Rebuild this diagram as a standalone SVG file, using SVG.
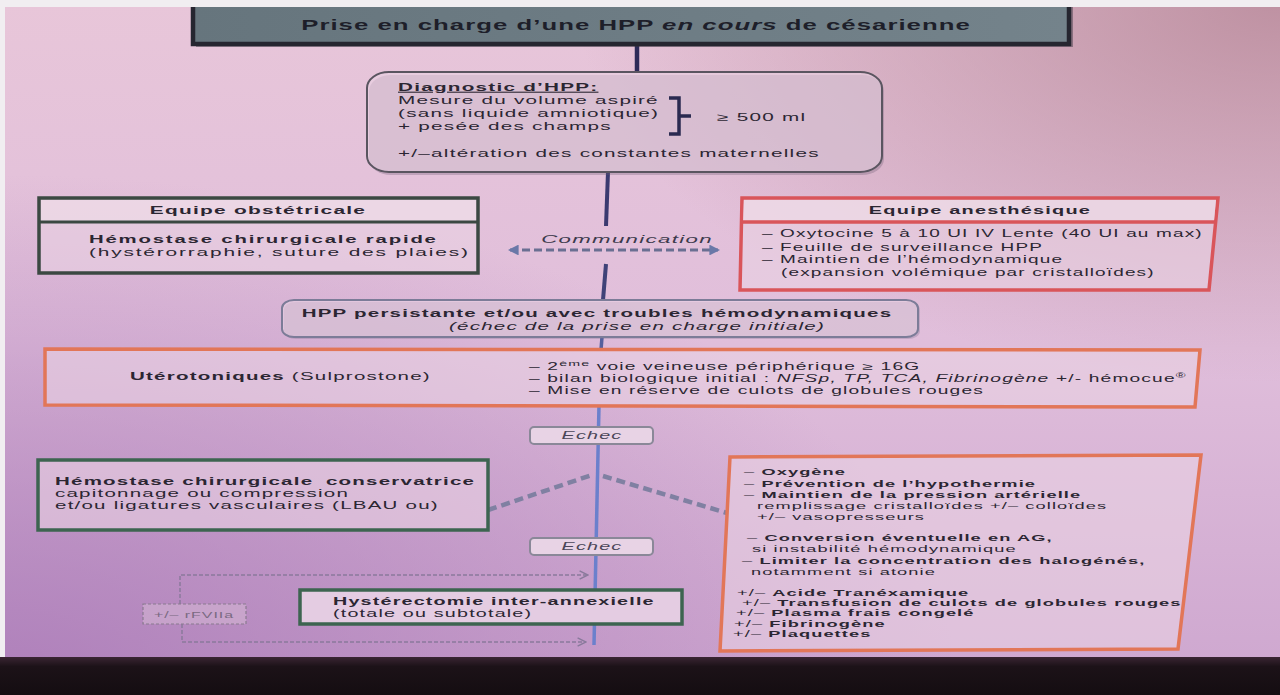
<svg xmlns="http://www.w3.org/2000/svg" width="1280" height="695" viewBox="0 0 1280 695">
<defs>
  <linearGradient id="bg" x1="0" y1="0" x2="0" y2="1">
    <stop offset="0" stop-color="#e8c6d9"/>
    <stop offset="0.5" stop-color="#e0bedb"/>
    <stop offset="1" stop-color="#cda6cf"/>
  </linearGradient>
  <radialGradient id="bl" cx="0" cy="1" r="0.75">
    <stop offset="0" stop-color="#a878b6" stop-opacity="0.85"/>
    <stop offset="1" stop-color="#a878b6" stop-opacity="0"/>
  </radialGradient>
  <radialGradient id="tr" cx="1" cy="0" r="0.55">
    <stop offset="0" stop-color="#b48494" stop-opacity="0.8"/>
    <stop offset="1" stop-color="#b48494" stop-opacity="0"/>
  </radialGradient>
  <linearGradient id="band" x1="0" y1="0" x2="0" y2="1">
    <stop offset="0" stop-color="#3a2533"/>
    <stop offset="0.25" stop-color="#1c1218"/>
    <stop offset="1" stop-color="#140d11"/>
  </linearGradient>
  <linearGradient id="ttl" x1="0" y1="0" x2="1" y2="0">
    <stop offset="0" stop-color="#66757d"/>
    <stop offset="1" stop-color="#74838b"/>
  </linearGradient>
  <marker id="ah" viewBox="0 0 10 10" refX="8" refY="5" markerWidth="3.6" markerHeight="3.6" orient="auto-start-reverse">
    <path d="M0,0 L10,5 L0,10 z" fill="#6a78a8"/>
  </marker>
  <marker id="oa" viewBox="0 0 10 10" refX="9" refY="5" markerWidth="7" markerHeight="7" orient="auto" markerUnits="strokeWidth">
    <path d="M1,1 L9,5 L1,9" fill="none" stroke="#8a7a9c" stroke-width="1.4"/>
  </marker>
</defs>
<style>
  .t{font-family:"Liberation Sans",Arial,Helvetica,sans-serif;fill:#2b2632;letter-spacing:0.06em}
  .b{font-weight:bold}
  .i{font-style:italic}
  .bx{fill:#ead2e3;fill-opacity:0.6}
  .hd{fill:#eedbe7;fill-opacity:0.7}
  .grn{stroke:#3d6450;stroke-width:3.5}
  .org{stroke:#e27658;stroke-width:3.5}
  .red{stroke:#d9555a;stroke-width:3.5}
  .rnd{fill:#e8d3e5;stroke:#8a8898;stroke-width:2}
  .dsh{fill:none;stroke:#8080a2;stroke-width:4.5;stroke-dasharray:9 5}
  .thin{fill:none;stroke:#8a7a9c;stroke-width:1.5;stroke-dasharray:4 2}
</style>

<!-- background -->
<rect x="0" y="0" width="1280" height="695" fill="url(#bg)"/>
<rect x="0" y="0" width="1280" height="695" fill="url(#bl)"/>
<rect x="0" y="0" width="1280" height="695" fill="url(#tr)"/>

<!-- connectors -->
<g id="connectors">
  <line x1="637" y1="44" x2="637" y2="73" stroke="#2d2a58" stroke-width="4.5"/>
  <line x1="608" y1="172" x2="606" y2="226" stroke="#3b3a70" stroke-width="4"/>
  <line x1="606" y1="264" x2="603" y2="300" stroke="#3f4278" stroke-width="4"/>
  <line x1="602" y1="337" x2="601" y2="350" stroke="#55609e" stroke-width="3.5"/>
  <line x1="599" y1="405" x2="594" y2="645" stroke="#6b80cc" stroke-width="3.5"/>
  <line x1="510" y1="250" x2="718" y2="250" stroke="#6a6f92" stroke-width="3" stroke-dasharray="8 4" marker-start="url(#ah)" marker-end="url(#ah)"/>
  <path class="dsh" d="M488,510 L592,475"/>
  <path class="dsh" d="M603,476 L727,513"/>
  <path class="thin" d="M180,604 V575 H588" marker-end="url(#oa)"/>
  <path class="thin" d="M182,624 V642 H586" marker-end="url(#oa)"/>
</g>

<!-- title -->
<g id="title">
  <rect x="196" y="6" width="877" height="41" fill="#3a3540" opacity="0.45"/>
  <rect x="193" y="2" width="876" height="42" fill="url(#ttl)" stroke="#262630" stroke-width="4.5"/>
  <text class="t b" font-size="14.3" text-anchor="middle" style="fill:#1e1f2a;letter-spacing:0.04em" transform="translate(636,30) scale(1.8,1)">Prise en charge d’une HPP <tspan class="i">en cours</tspan> de césarienne</text>
</g>

<!-- diagnostic -->
<g id="diagnostic">
  <rect x="369" y="75" width="515" height="100" rx="22" ry="16" fill="#6a5a70" opacity="0.3"/>
  <rect x="367" y="72" width="515" height="100" rx="22" ry="16" class="bx" stroke="#5a5560" stroke-width="2"/>
  <g class="t" font-size="10.9" transform="translate(398,0) scale(1.9,1)">
    <text class="b" y="91" text-decoration="underline">Diagnostic d’HPP:</text>
    <text y="104">Mesure du volume aspiré</text>
    <text y="117">(sans liquide amniotique)</text>
    <text y="130">+ pesée des champs</text>
    <text x="168" y="121">≥ 500 ml</text>
    <text y="157">+/–altération des constantes maternelles</text>
  </g>
  <path d="M669,98 H679 V134 H669 M679,116 H691" fill="none" stroke="#2a2a50" stroke-width="3.5"/>
</g>

<!-- equipe obstetricale -->
<g id="obstetricale">
  <rect x="39" y="198" width="439" height="75" class="bx" stroke="#3b4842" stroke-width="3.5"/>
  <rect x="41" y="200" width="435" height="22" class="hd"/>
  <line x1="39" y1="222" x2="478" y2="222" stroke="#3b4842" stroke-width="3"/>
  <text class="t b" font-size="11" text-anchor="middle" transform="translate(258,214) scale(1.9,1)">Equipe obstétricale</text>
  <g class="t" transform="translate(89,0) scale(1.9,1)">
    <text class="b" y="243" font-size="10.7">Hémostase chirurgicale rapide</text>
    <text y="256" font-size="11">(hystérorraphie, suture des plaies)</text>
  </g>
</g>

<!-- communication label -->
<g id="communication">
  <text class="t i" font-size="11.7" text-anchor="middle" style="fill:#3c3a4c" transform="translate(627,243) scale(1.9,1)">Communication</text>
</g>

<!-- equipe anesthesique -->
<g id="anesthesique">
  <polygon points="742,198 1218,198 1209,290 740,290" class="bx red"/>
  <polygon points="744,200 1216,200 1214,221 743,221" class="hd"/>
  <line x1="741" y1="222" x2="1216" y2="222" class="red"/>
  <text class="t b" font-size="10.5" text-anchor="middle" transform="translate(980,214) scale(1.9,1)">Equipe anesthésique</text>
  <g class="t" font-size="10" transform="translate(762,0) scale(1.9,1)">
    <text y="237">– Oxytocine 5 à 10 UI IV Lente (40 UI au max)</text>
    <text y="251">– Feuille de surveillance HPP</text>
    <text y="263">– Maintien de l’hémodynamique</text>
    <text x="10" y="276">(expansion volémique par cristalloïdes)</text>
  </g>
</g>

<!-- HPP persistante -->
<g id="persistante">
  <rect x="284" y="302" width="636" height="37" rx="12" ry="8" fill="#7a7090" opacity="0.3"/>
  <rect x="282" y="300" width="636" height="37" rx="12" ry="8" class="bx" stroke="#7c7c98" stroke-width="2"/>
  <text class="t b" font-size="10.8" text-anchor="middle" transform="translate(597,317) scale(1.9,1)">HPP persistante et/ou avec troubles hémodynamiques</text>
  <text class="t i" font-size="10.8" transform="translate(449,330) scale(1.9,1)">(échec de la prise en charge initiale)</text>
</g>

<!-- uterotoniques -->
<g id="uterotoniques">
  <polygon points="45,349 1200,350 1195,407 45,405" class="bx org"/>
  <text class="t" font-size="10.8" transform="translate(130,380) scale(1.9,1)"><tspan class="b">Utérotoniques</tspan> (Sulprostone)</text>
  <g class="t" font-size="10.1" transform="translate(529,0) scale(1.9,1)">
    <text y="370">– 2<tspan font-size="7.5" dy="-4">ème</tspan><tspan dy="4"> voie veineuse périphérique ≥ 16G</tspan></text>
    <text y="382">– bilan biologique initial : <tspan class="i">NFSp, TP, TCA, Fibrinogène</tspan> +/- hémocue<tspan font-size="7" dy="-4">®</tspan></text>
    <text y="394">– Mise en réserve de culots de globules rouges</text>
  </g>
</g>

<!-- echec 1 -->
<g id="echec1">
  <rect x="530" y="427" width="123" height="17" rx="4" class="rnd"/>
  <text class="t i" font-size="10.4" text-anchor="middle" style="fill:#4a4658" transform="translate(592,439) scale(1.9,1)">Echec</text>
</g>

<!-- hemostase conservatrice -->
<g id="conservatrice">
  <rect x="38" y="460" width="450" height="70" class="bx grn"/>
  <g class="t" font-size="10.8" transform="translate(55,0) scale(1.9,1)">
    <text class="b" y="485">Hémostase chirurgicale <tspan dx="3">conservatrice</tspan></text>
    <text y="497">capitonnage ou compression</text>
    <text y="509">et/ou ligatures vasculaires (LBAU ou)</text>
  </g>
</g>

<!-- right big box -->
<g id="mesures">
  <polygon points="730,457 1201,455 1178,649 720,651" class="bx org"/>
  <g class="t" font-size="9.6">
    <text transform="translate(744,475) scale(1.9,1)">– <tspan class="b">Oxygène</tspan></text>
    <text transform="translate(744,487) scale(1.9,1)">– <tspan class="b">Prévention de l’hypothermie</tspan></text>
    <text transform="translate(744,498) scale(1.9,1)">– <tspan class="b">Maintien de la pression artérielle</tspan></text>
    <text transform="translate(757,509) scale(1.9,1)">remplissage cristalloïdes +/– colloïdes</text>
    <text transform="translate(757,520) scale(1.9,1)">+/– vasopresseurs</text>
    <text transform="translate(747,541) scale(1.9,1)">– <tspan class="b">Conversion éventuelle en AG,</tspan></text>
    <text transform="translate(752,552) scale(1.9,1)">si instabilité hémodynamique</text>
    <text transform="translate(742,564) scale(1.9,1)">– <tspan class="b">Limiter la concentration des halogénés,</tspan></text>
    <text transform="translate(751,575) scale(1.9,1)">notamment si atonie</text>
    <text transform="translate(737,596) scale(1.9,1)">+/– <tspan class="b">Acide Tranéxamique</tspan></text>
    <text transform="translate(742,606) scale(1.9,1)">+/– <tspan class="b">Transfusion de culots de globules rouges</tspan></text>
    <text transform="translate(736,616) scale(1.9,1)">+/– <tspan class="b">Plasma frais congelé</tspan></text>
    <text transform="translate(734,627) scale(1.9,1)">+/– <tspan class="b">Fibrinogène</tspan></text>
    <text transform="translate(733,637) scale(1.9,1)">+/– <tspan class="b">Plaquettes</tspan></text>
  </g>
</g>

<!-- echec 2 -->
<g id="echec2">
  <rect x="530" y="538" width="123" height="17" rx="4" class="rnd"/>
  <text class="t i" font-size="10.4" text-anchor="middle" style="fill:#4a4658" transform="translate(592,550) scale(1.9,1)">Echec</text>
</g>

<!-- hysterectomie -->
<g id="hysterectomie">
  <rect x="300" y="590" width="382" height="34" fill="#e4cce2" class="grn"/>
  <g class="t" font-size="10.4" transform="translate(333,0) scale(1.9,1)">
    <text class="b" y="605">Hystérectomie inter-annexielle</text>
    <text y="617">(totale ou subtotale)</text>
  </g>
</g>

<!-- rFVIIa -->
<g id="rfviia">
  <rect x="143" y="604" width="103" height="20" fill="#d8bcd6" fill-opacity="0.5" stroke="#8a7a90" stroke-width="1.2" stroke-dasharray="3 2"/>
  <text class="t" font-size="8.4" text-anchor="middle" style="fill:#7a6a82" transform="translate(194,618) scale(1.9,1)">+/– rFVIIa</text>
</g>

<!-- photo frame edges -->
<rect x="0" y="0" width="1280" height="7" fill="#f1eef1"/>
<rect x="0" y="0" width="5" height="660" fill="#f1eef1"/>
<rect x="0" y="657" width="1280" height="38" fill="url(#band)"/>
</svg>
